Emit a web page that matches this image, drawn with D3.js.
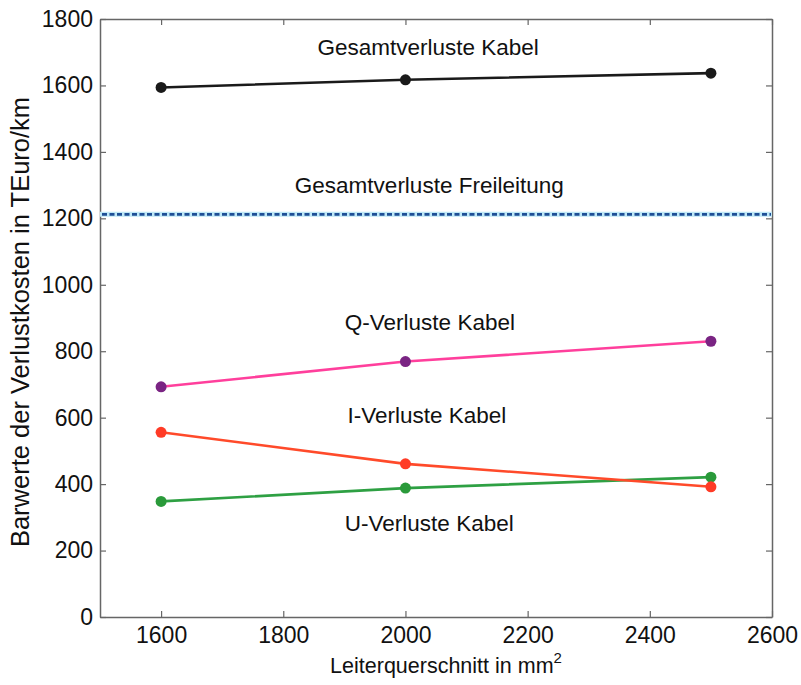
<!DOCTYPE html>
<html><head><meta charset="utf-8">
<script src="https://cdn.jsdelivr.net/npm/d3@7"></script>
<style>body{margin:0;background:#fff}svg{display:block}text{font-family:"Liberation Sans",Arial,sans-serif;fill:#111}</style>
</head><body><svg id="c" width="801" height="685"></svg>
<script>
const xValues = [1600, 2000, 2500];
const gesamtKabel = [1594, 1617, 1637];
const qKabel = [693, 769, 830];
const iKabel = [556, 461, 392];
const uKabel = [348, 388, 421];
const freileitung = 1212;
const xTicks = [1600, 1800, 2000, 2200, 2400, 2600];
const yTicks = [0, 200, 400, 600, 800, 1000, 1200, 1400, 1600, 1800];
const labels = [
  {text: "Gesamtverluste Kabel", x: 2037, y: 1692},
  {text: "Gesamtverluste Freileitung", x: 2039, y: 1276},
  {text: "Q-Verluste Kabel", x: 2040, y: 864},
  {text: "I-Verluste Kabel", x: 2035, y: 584},
  {text: "U-Verluste Kabel", x: 2039, y: 259}
];

const svg = d3.select("#c");
const L = 100, R = 772, T = 19, B = 617;
const x = d3.scaleLinear().domain([1500, 2600]).range([L, R]);
const y = d3.scaleLinear().domain([0, 1800]).range([B, T]);
const fs = 22.5;

const ax = svg.append("g");
const axisStyle = g => { g.selectAll(".domain").attr("stroke", "#666").attr("stroke-width", 1.5); g.selectAll(".tick line").attr("stroke", "#666").attr("stroke-width", 1.2); };
const fmt = d3.format("d");
ax.append("g").attr("transform", `translate(0,${B})`).call(d3.axisBottom(x).tickValues(xTicks).tickSize(-6).tickSizeOuter(0).tickFormat(fmt))
  .call(axisStyle).call(g => g.selectAll("text").attr("font-size", 23).attr("dy", "0.71em").attr("y", 10));
ax.append("g").attr("transform", `translate(0,${T})`).call(d3.axisTop(x).tickValues(xTicks).tickSize(-6).tickSizeOuter(0).tickFormat(""))
  .call(axisStyle);
ax.append("g").attr("transform", `translate(${L},0)`).call(d3.axisLeft(y).tickValues(yTicks).tickSize(-6).tickSizeOuter(0).tickFormat(fmt))
  .call(axisStyle).call(g => g.selectAll("text").attr("font-size", 23).attr("x", -7));
ax.append("g").attr("transform", `translate(${R},0)`).call(d3.axisRight(y).tickValues(yTicks).tickSize(-6).tickSizeOuter(0).tickFormat(""))
  .call(axisStyle);
ax.selectAll("text").style("font-family", '"Liberation Sans",Arial,sans-serif').attr("fill", "#111");

svg.append("line").attr("x1", x(1500)).attr("x2", x(2600)).attr("y1", y(freileitung)).attr("y2", y(freileitung))
  .attr("stroke", "#bfe8f7").attr("stroke-width", 5);
svg.append("line").attr("x1", x(1500) + 2).attr("x2", x(2600) - 1).attr("y1", y(freileitung)).attr("y2", y(freileitung))
  .attr("stroke", "#1f4f96").attr("stroke-width", 2.6).attr("stroke-dasharray", "5,2.5");

const line = d3.line().x((d, i) => x(xValues[i])).y(d => y(d));
const series = [
  {vals: uKabel, line: "#2ea043", dot: "#2a9a3a"},
  {vals: iKabel, line: "#ff4a2a", dot: "#ff3b26"},
  {vals: qKabel, line: "#ff3f9c", dot: "#7a2483"},
  {vals: gesamtKabel, line: "#1a1a1a", dot: "#1a1a1a"}
];
series.forEach(s => {
  svg.append("path").datum(s.vals).attr("d", line).attr("fill", "none").attr("stroke", s.line).attr("stroke-width", 2.6);
  svg.selectAll(null).data(s.vals).enter().append("circle")
    .attr("cx", (d, i) => x(xValues[i])).attr("cy", d => y(d)).attr("r", 5.5).attr("fill", s.dot);
});

labels.forEach(l => svg.append("text").attr("x", x(l.x)).attr("y", y(l.y)).attr("text-anchor", "middle").attr("font-size", fs).text(l.text));

const xt = svg.append("text").attr("x", 446).attr("y", 673).attr("text-anchor", "middle").attr("font-size", 21.5);
xt.append("tspan").text("Leiterquerschnitt in mm");
xt.append("tspan").attr("dy", -10).attr("font-size", 15).text("2");
svg.append("text").attr("transform", `translate(29,322) rotate(-90)`).attr("text-anchor", "middle").attr("font-size", 25.5)
  .text("Barwerte der Verlustkosten in TEuro/km");
</script></body></html>
